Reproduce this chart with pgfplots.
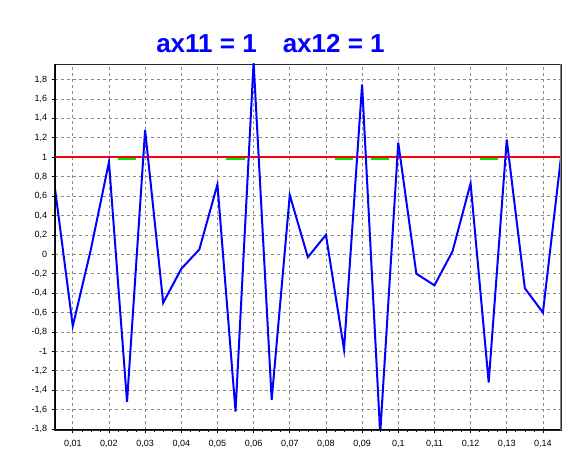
\documentclass[border=0pt]{standalone}
\usepackage{pgfplots}
\pgfplotsset{compat=1.18}
\usepackage{fontspec}
\setmainfont{Liberation Sans}
\definecolor{lgreen}{RGB}{0,230,0}
\definecolor{pureblue}{RGB}{0,0,255}
\definecolor{purered}{RGB}{255,0,0}
\begin{document}
\begin{tikzpicture}
\path (0pt,0pt) rectangle (566pt,465pt);
\begin{axis}[
  at={(54.7pt,35pt)}, anchor=south west, scale only axis,
  width=506.3pt, height=366pt,
  xmin=0.005, xmax=0.145, ymin=-1.81, ymax=1.96,
  xtick={0.01,0.02,0.03,0.04,0.05,0.06,0.07,0.08,0.09,0.1,0.11,0.12,0.13,0.14},
  ytick={-1.8,-1.6,-1.4,-1.2,-1,-0.8,-0.6,-0.4,-0.2,0,0.2,0.4,0.6,0.8,1,1.2,1.4,1.6,1.8},
  scaled ticks=false,
  minor x tick num=3,
  grid=major,
  major grid style={gray!90, dash pattern=on 3pt off 3pt, line width=0.7pt},
  tick label style={font=\fontsize{9}{10}\selectfont},
  /pgf/number format/assume math mode=true,
  /pgf/number format/use comma,
  /pgf/number format/fixed,
  /pgf/number format/precision=2,
  axis line style={draw=black!85, line width=0.8pt},
  tick style={black, line width=0.6pt},
  major tick length=3pt, minor tick length=2pt,
  tick align=outside,
  tick pos=left,
  xticklabel style={yshift=-4pt},
  yticklabel style={xshift=-1pt},
]
\addplot[draw=purered, line width=2pt] coordinates {(0.005,1) (0.145,1)};
\addplot[draw=lgreen, line width=1.5pt] coordinates {(0.0225,0.981) (0.0275,0.981)};
\addplot[draw=lgreen, line width=1.5pt] coordinates {(0.0525,0.981) (0.0575,0.981)};
\addplot[draw=lgreen, line width=1.5pt] coordinates {(0.0825,0.981) (0.0875,0.981)};
\addplot[draw=lgreen, line width=1.5pt] coordinates {(0.0925,0.981) (0.0975,0.981)};
\addplot[draw=lgreen, line width=1.5pt] coordinates {(0.1225,0.981) (0.1275,0.981)};
\addplot[draw=pureblue, line width=2pt] coordinates {
(0.005,0.70) (0.010,-0.74) (0.015,0.05) (0.020,0.95) (0.025,-1.52)
(0.030,1.28) (0.035,-0.50) (0.040,-0.15) (0.045,0.05) (0.050,0.72)
(0.055,-1.62) (0.060,1.98) (0.065,-1.50) (0.070,0.61) (0.075,-0.03)
(0.080,0.20) (0.085,-0.98) (0.090,1.75) (0.095,-1.85) (0.100,1.15)
(0.105,-0.20) (0.110,-0.32) (0.115,0.03) (0.120,0.73) (0.125,-1.32)
(0.130,1.18) (0.135,-0.35) (0.140,-0.60) (0.145,1.00)};
\draw[black, line width=2pt] (rel axis cs:0,1) -- (rel axis cs:0,0) -- (rel axis cs:1,0);
\draw[gray, line width=1.5pt] (rel axis cs:1,0) -- (rel axis cs:1,1);
\end{axis}
\node[anchor=base, text=pureblue, font=\fontsize{26}{30}\selectfont\bfseries, inner sep=0pt]
  at (270.5pt,412.7pt) {ax11 = 1\hspace{26pt}ax12 = 1};
\end{tikzpicture}
\end{document}
